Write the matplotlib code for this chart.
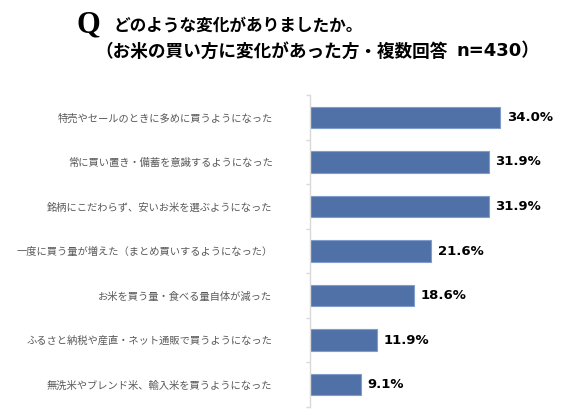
import numpy as np
import matplotlib.pyplot as plt

plt.rcParams['font.family'] = ['Noto Sans CJK JP', 'DejaVu Sans']

# data
categories = [
    '特売やセールのときに多めに買うようになった',
    '常に買い置き・備蓄を意識するようになった',
    '銘柄にこだわらず、安いお米を選ぶようになった',
    '一度に買う量が増えた（まとめ買いするようになった）',
    'お米を買う量・食べる量自体が減った',
    'ふるさと納税や産直・ネット通販で買うようになった',
    '無洗米やブレンド米、輸入米を買うようになった',
]
values = [34.0, 31.9, 31.9, 21.6, 18.6, 11.9, 9.1]

fig = plt.figure(figsize=(5.7, 4.13), dpi=100)
ax = fig.add_axes([310/570, 1-407/413, 224/570, (407-95)/413])

y = np.arange(len(categories))
ax.barh(y, values, height=0.48, color='#4F71A8', edgecolor='#7F9CCB', linewidth=0.8)
ax.set_ylim(len(categories)-0.5, -0.5)
ax.set_xlim(0, 40)

for yi, v in zip(y, values):
    ax.text(v + 1.2, yi, f'{v:.1f}%', va='center', ha='left',
            fontsize=9.5, fontweight='bold', color='black', family='DejaVu Sans')

ax.set_yticks(y)
ax.set_yticklabels(categories, fontsize=7.4, color='#595959')
ax.tick_params(axis='y', which='major', length=0, pad=27)
ax.set_yticks(np.arange(len(categories)+1) - 0.5, minor=True)
ax.tick_params(axis='y', which='minor', length=3, color='#D9D9D9', width=1)
ax.set_xticks([])
for s in ['top', 'right', 'bottom']:
    ax.spines[s].set_visible(False)
ax.spines['left'].set_color('#D9D9D9')
ax.spines['left'].set_linewidth(1)

# title
fig.text(77/570, 1-32/413, 'Q', fontsize=22, fontweight='bold',
         family='Liberation Serif', va='baseline')
fig.text(114/570, 1-30.5/413, 'どのような変化がありましたか。', fontsize=12,
         fontweight='bold', va='baseline')
fig.text(95/570, 1-56.5/413, '（お米の買い方に変化があった方・複数回答',
         fontsize=12.7, fontweight='bold', va='baseline')
fig.text(457/570, 1-56.5/413, 'n=430）', fontsize=13, fontweight='bold',
         va='baseline', family=['DejaVu Sans', 'Noto Sans CJK JP'])

fig.savefig('out.png', dpi=100)
